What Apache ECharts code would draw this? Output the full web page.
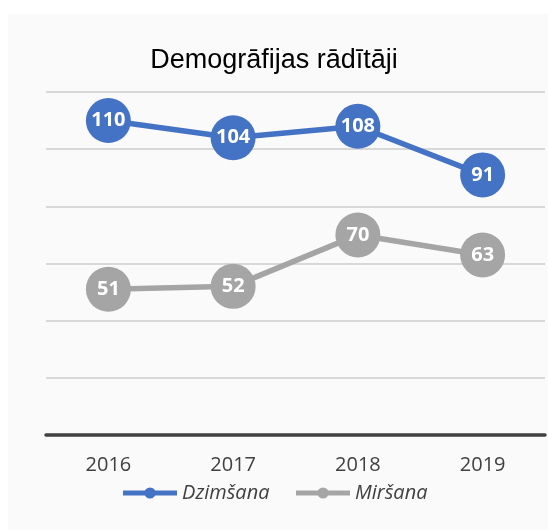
<!DOCTYPE html>
<html>
<head>
<meta charset="utf-8">
<script src="https://cdn.jsdelivr.net/npm/echarts@6/dist/echarts.min.js"></script>
<style>
  html, body { margin: 0; padding: 0; background: #fff; }
  #main { width: 548px; height: 530px; }
</style>
</head>
<body>
<div id="main"></div>
<script>
// dati
const years = ['2016', '2017', '2018', '2019']
const dzimsana = [110, 104, 108, 91]
const mirsana = [51, 52, 70, 63]
const yTicks = [0, 20, 40, 60, 80, 100, 120]

const chart = echarts.init(document.getElementById('main'))

const lineSeries = (name, data, color) => ({
  name: name,
  type: 'line',
  data: data,
  symbol: 'circle',
  symbolSize: 45,
  lineStyle: { width: 5.5, color: color },
  itemStyle: { color: color },
  label: {
    show: true,
    position: 'inside',
    color: '#fff',
    fontWeight: 'bold',
    fontSize: 20,
    fontFamily: 'Open Sans'
  },
  z: 3
})

const option = {
  animation: false,
  backgroundColor: '#fff',
  graphic: [{
    type: 'rect',
    shape: { x: 8, y: 14, width: 540, height: 516 },
    style: { fill: '#fafafa' },
    silent: true,
    z: -10
  }],
  title: {
    text: 'Demogrāfijas rādītāji',
    left: 'center',
    top: 42,
    textStyle: {
      fontFamily: 'Liberation Sans',
      fontSize: 27,
      fontWeight: 'normal',
      color: '#000'
    }
  },
  legend: {
    bottom: 22,
    left: 'center',
    itemWidth: 54,
    itemHeight: 14,
    itemGap: 24,
    lineStyle: { width: 5 },
    textStyle: {
      fontFamily: 'Open Sans',
      fontStyle: 'italic',
      fontSize: 20,
      color: '#404040'
    },
    data: ['Dzimšana', 'Miršana']
  },
  grid: { left: 46, right: 3, top: 92, bottom: 95 },
  xAxis: {
    type: 'category',
    data: years,
    axisLine: { lineStyle: { color: '#404040', width: 3.5 } },
    axisTick: { show: false },
    axisLabel: {
      margin: 20,
      fontFamily: 'Open Sans',
      fontSize: 20,
      color: '#404040'
    }
  },
  yAxis: {
    type: 'value',
    min: yTicks[0],
    max: yTicks[yTicks.length - 1],
    interval: 20,
    axisLabel: { show: false },
    axisLine: { show: false },
    axisTick: { show: false },
    splitLine: { lineStyle: { color: '#cccccc', width: 1.5 } }
  },
  series: [
    lineSeries('Dzimšana', dzimsana, '#4472C4'),
    lineSeries('Miršana', mirsana, '#A5A5A5')
  ]
}

chart.setOption(option)
</script>
</body>
</html>
